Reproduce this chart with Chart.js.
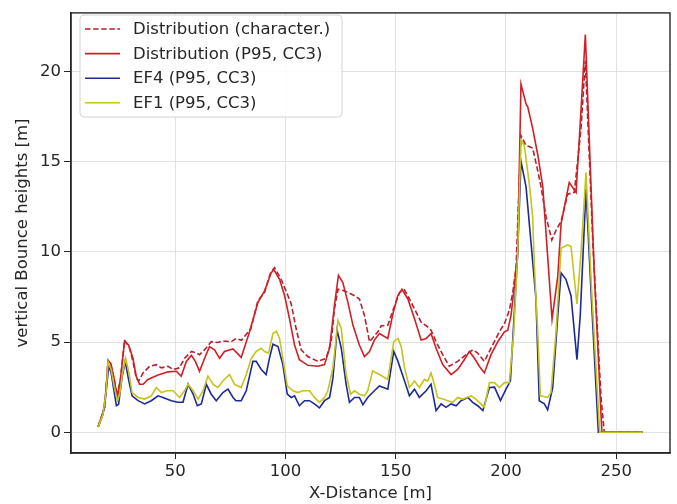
<!DOCTYPE html>
<html>
<head>
<meta charset="utf-8">
<script src="https://cdn.jsdelivr.net/npm/chart.js@4/dist/chart.umd.min.js"></script>
<style>
  html, body { margin: 0; padding: 0; background: #fff; }
  #wrap { width: 677px; height: 504px; }
</style>
</head>
<body>
<div id="wrap"><canvas id="chart" width="677" height="504"></canvas></div>
<script>
// series as [x (m), height (m)]
const distChar = [
  [15,0.3],[16.9,1.0],[18,1.4],[19.5,4.0],[20.7,3.8],[22.2,3.0],[23.7,2.0],[25.2,3.0],[27,5.1],
  [29.3,4.66],[30.8,3.93],[32.3,3.0],[33.4,2.84],[35.4,3.29],[38.4,3.66],[41.4,3.75],[43.7,3.57],
  [46.7,3.66],[49,3.48],[51.9,3.57],[54.2,4.1],[57.3,4.48],[59.5,4.4],[61,4.3],[63.3,4.57],
  [66.3,5.02],[69.3,4.98],[71.5,5.06],[75.4,5.02],[77.6,5.2],[80,5.1],[84.3,5.75],[87.5,7.3],
  [90.5,7.75],[93.2,8.84],[95,9.12],[98,8.48],[101.1,7.57],[102.6,7.11],[104.8,5.75],[107.1,4.57],
  [110.1,4.2],[114.7,3.93],[118.4,4.1],[120.7,5.02],[122.2,6.84],[123.8,7.93],[126.8,7.84],
  [131.3,7.57],[133.5,7.39],[135.8,6.48],[138.1,5.02],[141.9,5.57],[143.4,5.9],[146.4,5.93],
  [148.7,6.75],[151.7,7.75],[153.9,7.9],[156.2,7.39],[158.5,6.84],[161.5,6.11],[164.5,5.84],
  [166,5.66],[168.3,5.02],[171.3,4.3],[174.3,3.66],[178.1,3.93],[181.9,4.3],[184.9,4.57],
  [187.2,4.39],[190.2,3.93],[193.2,4.66],[197,5.57],[199.3,6.02],[201.5,6.75],[203.1,7.75],
  [204.6,9.2],[206.8,16.45],[209.1,15.9],[212.1,15.76],[214.4,14.5],[215.9,13.6],[218.2,11.94],
  [220.8,10.66],[222.7,11.2],[225,11.7],[228,13.2],[231,13.3],[234,16.8],[236,20.6],
  [239.4,10.5],[243.1,1.93],[244.6,0],[262,0]
];
const distP95 = [
  [15,0.3],[16.9,1.0],[18,1.4],[19.5,3.93],[20.7,3.84],[22.2,3.0],[23.7,1.93],[25.2,3.0],[27,5.06],
  [28.8,4.84],[30.8,4.1],[32.3,3.1],[33.8,2.66],[35.4,2.66],[37.6,2.93],[42.2,3.17],[46.7,3.35],
  [50.5,3.38],[52.7,3.1],[55,3.93],[57.3,4.26],[59.1,3.93],[61,3.38],[63.3,4.1],[65.5,4.75],
  [67.8,4.57],[70.1,4.1],[72.3,4.48],[76.2,4.62],[79.9,4.15],[83.7,5.57],[87.5,7.2],[90.5,7.84],
  [93.5,8.84],[94.7,9.02],[97.3,8.48],[99.6,7.57],[101.8,6.3],[104.1,4.84],[106.3,4.02],
  [110.1,3.71],[114.7,3.66],[117.7,3.75],[120,4.66],[122.2,7.03],[124,8.7],[126,8.3],[128.3,7.2],
  [130.6,5.93],[133.5,4.84],[135.8,4.2],[138.1,4.48],[140.3,5.11],[142.6,5.47],[146.4,5.2],
  [148.7,6.57],[150.9,7.57],[152.8,7.93],[155.5,7.39],[158.5,6.3],[161.5,5.11],[163.8,5.2],
  [166,5.47],[168.3,4.66],[171.3,3.75],[175.1,3.2],[178.1,3.48],[181.1,4.02],[183.4,4.48],
  [185.7,4.1],[187.9,3.66],[190.2,3.29],[193.2,4.3],[196.3,5.02],[199.3,5.57],[200.8,5.66],
  [202.3,6.48],[203.8,8.12],[205.3,9.93],[206.8,19.3],[209.1,18.2],[209.9,18.03],[212.1,16.85],
  [214.4,15.4],[216.7,13.6],[220.9,6.26],[223.5,8.66],[225,11.57],[228.7,13.85],[231.8,13.3],
  [234,17.76],[236,22.05],[240,9.0],[243.5,0],[262,0]
];
const ef4 = [
  [15,0.3],[17.2,1.0],[18.7,2.3],[19.8,3.66],[20.9,3.3],[22.2,2.3],[23.3,1.47],[24.3,1.55],
  [25.8,3.0],[27.3,3.93],[28.8,2.93],[30.4,2.02],[33.1,1.75],[36.1,1.57],[39.1,1.75],[42.2,2.02],
  [44.4,1.93],[48.2,1.75],[51.2,1.66],[53.5,1.66],[55.8,2.66],[58.1,2.11],[60,1.47],[61.8,1.57],
  [64.1,2.66],[66.3,2.11],[68.6,1.75],[71.6,2.2],[73.9,2.39],[76.2,1.93],[77.5,1.75],[79.9,1.75],
  [82.2,2.3],[85.2,3.93],[86.7,3.93],[89,3.48],[91.2,3.2],[92.7,4.1],[94.3,4.88],[96.6,4.75],
  [98.8,3.75],[100.8,2.11],[102.6,1.93],[104.1,2.02],[106.3,1.47],[108.6,1.75],[110.9,1.75],
  [113.1,1.57],[115.4,1.35],[117.7,1.75],[120,1.93],[121.5,3.0],[123.4,5.66],[125.3,4.66],
  [127.5,2.66],[129,1.66],[131.3,1.93],[133.5,1.93],[135.1,1.53],[137.3,1.93],[140.3,2.3],
  [142.6,2.57],[146.4,2.39],[149.1,4.48],[151,3.93],[154,2.84],[156.2,2.02],[158.5,2.39],
  [160.7,1.93],[163.8,2.3],[166,2.66],[168.3,1.2],[170.6,1.57],[172.8,1.38],[175.1,1.57],
  [177.4,1.47],[179.6,1.75],[182.7,1.93],[184.9,1.66],[187.2,1.47],[189.5,1.2],[192.5,2.48],
  [194.8,2.5],[197.5,1.75],[200,2.39],[202,2.84],[203.8,6.66],[205.3,9.9],[206.8,15.03],
  [209.1,13.6],[211.3,10.6],[213.6,7.39],[215.1,1.75],[217.4,1.57],[218.9,1.24],[221.2,2.48],
  [223.5,6.48],[225,8.84],[227.2,8.48],[229.5,7.57],[232.2,4.02],[233.7,6.5],[236.3,13.48],
  [238.5,8.0],[241.9,0],[262,0]
];
const ef1 = [
  [15,0.3],[17.2,1.0],[18.7,2.3],[19.5,3.9],[20.9,3.48],[22.2,2.6],[23.7,1.75],[24.8,2.1],
  [26.1,3.3],[27.5,4.1],[29,3.29],[30.4,2.2],[33.1,1.93],[36.1,1.84],[39.1,2.02],[41.4,2.48],
  [43.7,2.2],[46,2.3],[49,2.3],[51.9,1.93],[54.2,2.3],[55.8,2.66],[58.1,2.3],[60.4,1.84],
  [62.6,2.3],[64.8,3.11],[67.1,2.66],[69.3,2.48],[71.6,2.84],[74.6,3.2],[76.9,2.66],[79.9,2.48],
  [82.2,3.2],[84.5,4.1],[86.7,4.48],[89,4.66],[90.5,4.48],[92.3,4.39],[94.3,5.47],[95.8,5.6],
  [97.3,5.2],[98.8,4.1],[100.8,2.57],[103.4,2.3],[105.6,2.2],[107.9,2.3],[110.9,2.3],[113.1,1.93],
  [115.4,1.66],[117.7,1.93],[119.2,2.3],[121.5,3.57],[123.8,6.2],[125.3,5.75],[127.5,3.2],
  [129.5,2.11],[131.3,2.3],[133.5,2.11],[135.8,2.02],[137.3,2.3],[139.5,3.4],[142.6,3.2],
  [146.4,2.93],[149.1,5.02],[151,5.2],[152.5,4.75],[154,3.57],[156.2,2.48],[158.5,2.84],
  [160.7,2.48],[163,2.93],[164.5,2.84],[166,3.29],[167.5,2.66],[169,1.93],[171.3,1.84],
  [173.6,1.75],[175.9,1.66],[178.1,1.93],[180.4,1.84],[184.2,2.02],[186.4,1.84],[187.9,1.66],
  [190.2,1.38],[192.5,2.75],[194.8,2.75],[197,2.48],[199.3,2.75],[201.5,2.75],[203.5,5.5],
  [205.3,9.9],[206.8,16.2],[208.3,15.9],[210.6,13.76],[212.1,11.94],[212.9,9.2],[214.4,5.57],
  [215.6,2.02],[218.9,1.93],[220.4,2.2],[222.7,5.57],[225,10.2],[228,10.39],[229.5,10.3],
  [232.2,7.11],[234,9.9],[236.3,14.4],[238.8,8.0],[242.5,0],[262,0]
];

const seriesNames = ['Distribution (character.)', 'Distribution (P95, CC3)', 'EF4 (P95, CC3)', 'EF1 (P95, CC3)'];
const xTickValues = [50, 100, 150, 200, 250];
const yTickValues = [0, 5, 10, 15, 20];

const FONT = 'DejaVu Sans';
const toPoints = arr => arr.map(p => ({ x: p[0], y: p[1] }));

function line(label, data, color, order, dash) {
  return {
    label, data: toPoints(data),
    borderColor: color, backgroundColor: color,
    borderWidth: 1.6, borderDash: dash || [],
    pointRadius: 0, tension: 0, fill: false, order
  };
}

// legend box inside the plot + full black frame (like matplotlib)
const framePlugin = {
  id: 'frame',
  afterDatasetsDraw(chart) {
    const { ctx, chartArea: a } = chart;
    ctx.save();
    ctx.strokeStyle = '#262626';
    ctx.lineWidth = 1.4;
    ctx.strokeRect(a.left, a.top, a.right - a.left, a.bottom - a.top);

    // legend
    const bx = 80, by = 15, bw = 262, bh = 102, r = 4;
    ctx.beginPath();
    ctx.moveTo(bx + r, by);
    ctx.arcTo(bx + bw, by, bx + bw, by + bh, r);
    ctx.arcTo(bx + bw, by + bh, bx, by + bh, r);
    ctx.arcTo(bx, by + bh, bx, by, r);
    ctx.arcTo(bx, by, bx + bw, by, r);
    ctx.closePath();
    ctx.fillStyle = 'rgba(255,255,255,0.85)';
    ctx.fill();
    ctx.strokeStyle = '#d4d4d4';
    ctx.lineWidth = 1;
    ctx.stroke();

    ctx.font = '16.5px "' + FONT + '"';
    ctx.textBaseline = 'middle';
    ctx.fillStyle = '#262626';
    chart.data.datasets.forEach((ds, i) => {
      const y = 29 + i * 24.6;
      ctx.beginPath();
      ctx.strokeStyle = ds.borderColor;
      ctx.lineWidth = ds.borderWidth;
      ctx.setLineDash(ds.borderDash);
      ctx.moveTo(85, y);
      ctx.lineTo(120, y);
      ctx.stroke();
      ctx.setLineDash([]);
      ctx.fillText(ds.label, 133, y + 1);
    });
    ctx.restore();
  }
};

new Chart(document.getElementById('chart'), {
  type: 'line',
  data: {
    datasets: [
      line(seriesNames[0], distChar, '#b3202e', 4, [5.5, 2.6]),
      line(seriesNames[1], distP95, '#d21f26', 3),
      line(seriesNames[2], ef4, '#1c2a96', 2),
      line(seriesNames[3], ef1, '#c4c41c', 1)
    ]
  },
  options: {
    responsive: false,
    animation: false,
    layout: { padding: { left: 0, right: 7, top: 6, bottom: 0 } },
    plugins: { legend: { display: false }, tooltip: { enabled: false } },
    scales: {
      x: {
        type: 'linear', min: 2.7, max: 274.4,
        afterBuildTicks: s => { s.ticks = xTickValues.map(v => ({ value: v })); },
        afterFit: s => { s.height = 51; },
        grid: { color: '#e2e2e2', tickColor: '#262626', tickLength: 6, lineWidth: 1 },
        border: { display: true, color: '#262626', width: 1.4 },
        ticks: { color: '#262626', font: { family: FONT, size: 16.5 }, padding: 3, maxRotation: 0 },
        title: { display: true, text: 'X-Distance [m]', color: '#262626',
                 font: { family: FONT, size: 16.5 }, padding: { top: 0, bottom: 0 } }
      },
      y: {
        type: 'linear', min: -1.15, max: 23.25,
        afterBuildTicks: s => { s.ticks = yTickValues.map(v => ({ value: v })); },
        afterFit: s => { s.width = 71; },
        grid: { color: '#e2e2e2', tickColor: '#262626', tickLength: 7, lineWidth: 1 },
        border: { display: true, color: '#262626', width: 1.4 },
        ticks: { color: '#262626', font: { family: FONT, size: 16.5 }, padding: 3 },
        title: { display: true, text: 'vertical Bounce heights [m]', color: '#262626',
                 font: { family: FONT, size: 16.5 }, padding: { top: 13, bottom: 0 } }
      }
    }
  },
  plugins: [framePlugin]
});
</script>
</body>
</html>
